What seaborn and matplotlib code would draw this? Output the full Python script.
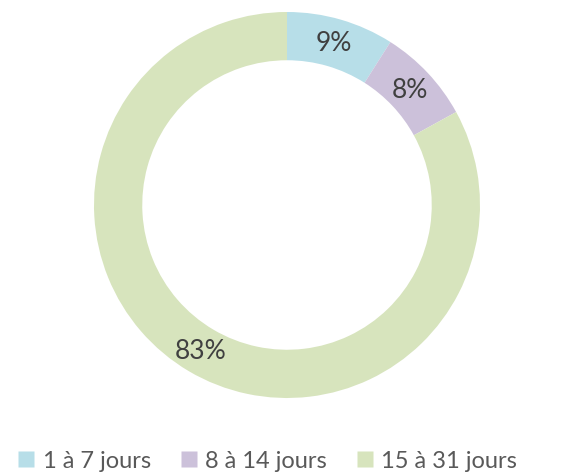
import numpy as np
import pandas as pd
import matplotlib
matplotlib.use("Agg")
import matplotlib.pyplot as plt
import seaborn as sns

# data
categories = ["1 à 7 jours", "8 à 14 jours", "15 à 31 jours"]
shares = [9, 8, 83]
colors = ["#B7DEE8", "#CCC1DA", "#D7E4BD"]

sns.set_theme(style="white")
plt.rcParams['font.family'] = ['Lato', 'DejaVu Sans']

df = pd.DataFrame({"duree": categories, "part": shares})

fig = plt.figure(figsize=(5.75, 4.77), dpi=100)
# square axes centred on the ring (pixel coords from the reference)
cx, cy, R = 287, 477 - 206, 193
ax = fig.add_axes([(cx - R) / 575, (cy - R) / 477, 2 * R / 575, 2 * R / 477])

wedges, texts, autotexts = ax.pie(
    df["part"], colors=colors, startangle=90, counterclock=False,
    radius=1, wedgeprops=dict(width=0.25, edgecolor="none"),
    autopct=lambda p: f"{p:.0f}%", pctdistance=0.875,
    textprops=dict(fontsize=19, color="#404040"))
ax.set_xlim(-1, 1)
ax.set_ylim(-1, 1)
ax.set_aspect("equal")
ax.axis("off")

handles = [plt.Line2D([], [], marker="s", linestyle="", markersize=11,
                      markerfacecolor=c, markeredgecolor="none") for c in colors]
fig.legend(handles, categories, loc="center", bbox_to_anchor=(267 / 575, 15 / 477),
           ncol=3, frameon=False, fontsize=17, handlelength=0.8,
           handletextpad=0.3, columnspacing=1.2, labelcolor="#595959")

fig.savefig("out.png", dpi=100)
